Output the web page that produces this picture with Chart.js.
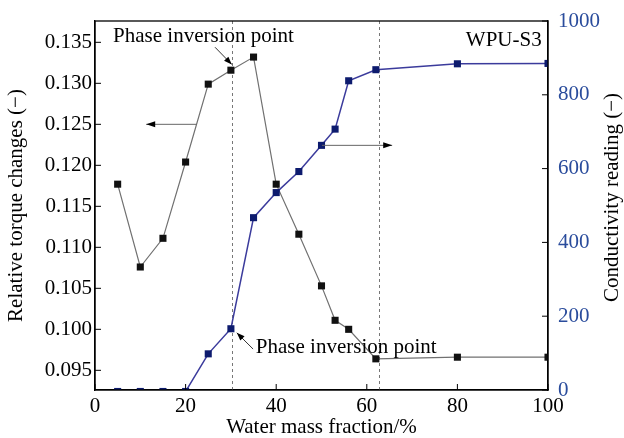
<!DOCTYPE html>
<html>
<head>
<meta charset="utf-8">
<script src="https://cdn.jsdelivr.net/npm/chart.js@4.4.0/dist/chart.umd.min.js"></script>
<style>
html, body { margin: 0; padding: 0; background: #fff; }
#wrap { width: 624px; height: 438px; }
</style>
</head>
<body>
<div id="wrap"><canvas id="torqueChart"></canvas></div>
<script>
// data
const waterFraction = [5, 10, 15, 20, 25, 30, 35, 40, 45, 50, 53, 56, 62, 80, 100];
const torque = [0.1177, 0.1076, 0.1111, 0.1204, 0.1299, 0.1316, 0.1332, 0.1177, 0.1116, 0.1053, 0.1011, 0.1000, 0.0964, 0.0966, 0.0966];
const conductivity = [-4, -4, -4, -4, 98, 166, 467, 535, 592, 663, 707, 838, 868, 884, 885];
const xTicks = [0, 20, 40, 60, 80, 100];
const torqueTicks = [0.095, 0.100, 0.105, 0.110, 0.115, 0.120, 0.125, 0.130, 0.135];
const condTicks = [0, 200, 400, 600, 800, 1000];
const inversionLines = [30.3, 62.8];

const FONT = 'Liberation Serif';
const FSIZE = 21;
const BLUE_TEXT = '#2a4c9c';

function arrow(ctx, x1, y1, x2, y2, len, half) {
    ctx.beginPath();
    ctx.moveTo(x1, y1);
    ctx.lineTo(x2, y2);
    ctx.stroke();
    const a = Math.atan2(y2 - y1, x2 - x1);
    ctx.beginPath();
    ctx.moveTo(x2, y2);
    ctx.lineTo(x2 - len * Math.cos(a) + half * Math.sin(a), y2 - len * Math.sin(a) - half * Math.cos(a));
    ctx.lineTo(x2 - len * Math.cos(a) - half * Math.sin(a), y2 - len * Math.sin(a) + half * Math.cos(a));
    ctx.closePath();
    ctx.fill();
}

const extras = {
    id: 'extras',
    beforeDatasetsDraw(chart) {
        const {ctx, chartArea: a, scales: {x}} = chart;
        ctx.save();
        ctx.strokeStyle = '#777';
        ctx.lineWidth = 1;
        ctx.setLineDash([3, 3]);
        inversionLines.forEach(v => {
            const px = Math.round(x.getPixelForValue(v)) + 0.5;
            ctx.beginPath();
            ctx.moveTo(px, a.top);
            ctx.lineTo(px, a.bottom);
            ctx.stroke();
        });
        ctx.restore();
    },
    afterDraw(chart) {
        const {ctx, chartArea: a, scales: {x, y, y1}} = chart;
        ctx.save();
        // frame
        ctx.strokeStyle = '#000';
        ctx.lineWidth = 1.3;
        ctx.strokeRect(a.left, a.top, a.right - a.left, a.bottom - a.top);
        // inward ticks
        ctx.lineWidth = 1;
        ctx.beginPath();
        torqueTicks.forEach(v => {
            const py = y.getPixelForValue(v);
            ctx.moveTo(a.left, py); ctx.lineTo(a.left + 6, py);
        });
        condTicks.forEach(v => {
            const py = y1.getPixelForValue(v);
            ctx.moveTo(a.right, py); ctx.lineTo(a.right - 6, py);
        });
        xTicks.forEach(v => {
            const px = x.getPixelForValue(v);
            ctx.moveTo(px, a.bottom); ctx.lineTo(px, a.bottom - 6);
        });
        ctx.stroke();

        // annotations
        ctx.fillStyle = '#000';
        ctx.font = FSIZE + 'px "' + FONT + '"';
        ctx.textBaseline = 'alphabetic';
        ctx.textAlign = 'left';
        ctx.fillText('Phase inversion point', x.getPixelForValue(4), y.getPixelForValue(0.135));
        ctx.fillText('Phase inversion point', x.getPixelForValue(35.5), y1.getPixelForValue(100));
        ctx.textAlign = 'right';
        ctx.fillText('WPU-S3', x.getPixelForValue(98.6), y1.getPixelForValue(932));

        ctx.strokeStyle = '#333';
        ctx.lineWidth = 1;
        arrow(ctx, x.getPixelForValue(26.5), y.getPixelForValue(0.1344),
            x.getPixelForValue(30.2), y.getPixelForValue(0.1323), 8, 3);
        arrow(ctx, x.getPixelForValue(34.9), y1.getPixelForValue(111),
            x.getPixelForValue(31.3), y1.getPixelForValue(155), 8, 3);
        ctx.strokeStyle = '#666';
        arrow(ctx, x.getPixelForValue(22.5), y.getPixelForValue(0.125),
            x.getPixelForValue(11.3), y.getPixelForValue(0.125), 9, 3);
        arrow(ctx, x.getPixelForValue(50.1), y1.getPixelForValue(663),
            x.getPixelForValue(65.6), y1.getPixelForValue(663), 9, 3);

        // right axis title, reads bottom to top
        ctx.translate(612, (a.top + a.bottom) / 2 - 8);
        ctx.rotate(-Math.PI / 2);
        ctx.textAlign = 'center';
        ctx.textBaseline = 'middle';
        ctx.fillText('Conductivity reading (\u2212)', 0, 0);
        ctx.restore();
    }
};

const ctx = document.getElementById('torqueChart').getContext('2d');
const myChart = new Chart(ctx, {
    type: 'line',
    data: {
        datasets: [{
            label: 'Relative torque changes',
            data: waterFraction.map((w, i) => ({x: w, y: torque[i]})),
            yAxisID: 'y',
            borderColor: '#707070',
            borderWidth: 1.2,
            pointStyle: 'rect',
            pointRadius: 5,
            pointBackgroundColor: '#111',
            pointBorderColor: '#111',
            pointBorderWidth: 0,
            tension: 0,
            order: 1
        }, {
            label: 'Conductivity reading',
            data: waterFraction.map((w, i) => ({x: w, y: conductivity[i]})),
            yAxisID: 'y1',
            borderColor: '#3b3b9c',
            borderWidth: 1.5,
            pointStyle: 'rect',
            pointRadius: 5,
            pointBackgroundColor: '#0d1b6e',
            pointBorderColor: '#0d1b6e',
            pointBorderWidth: 0,
            tension: 0,
            clip: 0,
            order: 0
        }]
    },
    options: {
        responsive: true,
        maintainAspectRatio: false,
        animation: false,
        layout: { padding: { top: 21, left: 0, right: 0, bottom: 0 } },
        plugins: { legend: { display: false }, tooltip: { enabled: false } },
        scales: {
            x: {
                type: 'linear',
                min: 0,
                max: 100,
                afterBuildTicks: s => { s.ticks = xTicks.map(v => ({value: v})); },
                afterFit: s => { s.height = 48; s.paddingLeft = 0; s.paddingRight = 0; },
                grid: { display: false, drawTicks: false },
                border: { display: true, color: '#000', width: 1.3 },
                ticks: { color: '#000', padding: 4, maxRotation: 0, font: { family: FONT, size: FSIZE } },
                title: {
                    display: true,
                    text: 'Water mass fraction/%',
                    color: '#000',
                    font: { family: FONT, size: FSIZE, lineHeight: 1 },
                    padding: { top: 0, bottom: 0 }
                }
            },
            y: {
                position: 'left',
                min: 0.0926,
                max: 0.1376,
                afterBuildTicks: s => { s.ticks = torqueTicks.map(v => ({value: v})); },
                afterFit: s => { s.width = 95; s.paddingTop = 0; s.paddingBottom = 0; },
                grid: { display: false, drawTicks: false },
                border: { display: true, color: '#000', width: 1.3 },
                ticks: {
                    color: '#000',
                    padding: 3,
                    font: { family: FONT, size: FSIZE },
                    callback: v => v.toFixed(3)
                },
                title: {
                    display: true,
                    text: 'Relative torque changes (\u2212)',
                    color: '#000',
                    font: { family: FONT, size: FSIZE, lineHeight: 1 },
                    padding: { top: 6, bottom: 0 }
                }
            },
            y1: {
                position: 'right',
                min: 0,
                max: 1000,
                afterBuildTicks: s => { s.ticks = condTicks.map(v => ({value: v})); },
                afterFit: s => { s.width = 76; s.paddingTop = 0; s.paddingBottom = 0; },
                grid: { display: false, drawTicks: false },
                border: { display: true, color: '#000', width: 1.3 },
                ticks: {
                    color: BLUE_TEXT,
                    padding: 10,
                    font: { family: FONT, size: FSIZE },
                    callback: v => String(v)
                }
            }
        }
    },
    plugins: [extras]
});
</script>
</body>
</html>
